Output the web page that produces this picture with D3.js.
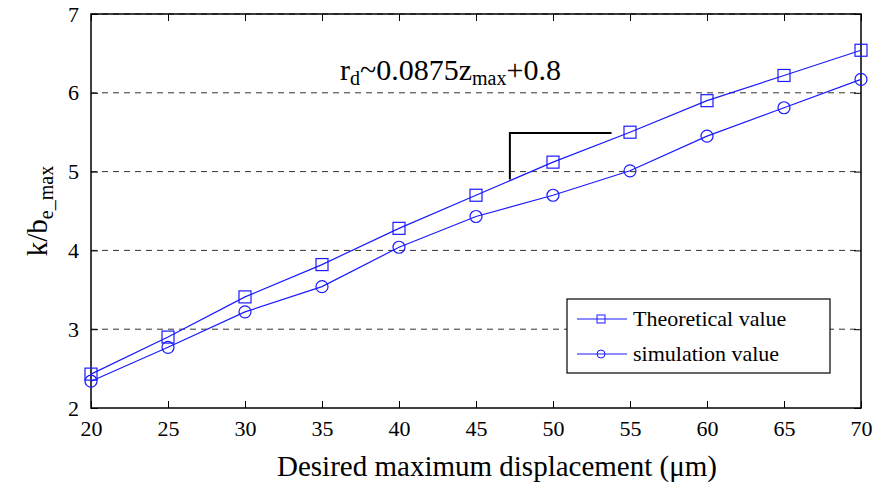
<!DOCTYPE html>
<html><head><meta charset="utf-8">
<script src="https://cdn.jsdelivr.net/npm/d3@7"></script>
<style>body{margin:0;background:#fff}svg{display:block}svg text,svg tspan{font-family:'Liberation Serif' !important}</style>
</head><body><svg id="c" width="874" height="488" font-family="Liberation Serif"></svg>
<script>
const xValues = [20,25,30,35,40,45,50,55,60,65,70];
const theoretical = [2.43,2.90,3.41,3.82,4.28,4.70,5.12,5.50,5.90,6.22,6.54];
const simulation = [2.34,2.77,3.22,3.54,4.04,4.43,4.70,5.01,5.45,5.81,6.17];
const xTicks = [20,25,30,35,40,45,50,55,60,65,70];
const yTicks = [2,3,4,5,6,7];
const seriesNames = ["Theoretical value","simulation value"];
const slopeMark = {x0:47.2, x1:53.8, yTop:5.49, yBottom:4.90};

const FONT = "'Liberation Serif'";
const svg = d3.select("#c");
const L=91,R=861,T=14,B=408;
const x = d3.scaleLinear().domain([20,70]).range([L,R]);
const y = d3.scaleLinear().domain([2,7]).range([B,T]);
const blue="#1a1aff";

svg.append("g").selectAll("line").data(yTicks.slice(1)).join("line")
  .attr("x1",L).attr("x2",R).attr("y1",d=>y(d)).attr("y2",d=>y(d))
  .attr("stroke","#333").attr("stroke-width",1).attr("stroke-dasharray","6,5");

const tl=7;
const styleAxis = g=>{g.select(".domain").remove();
  g.attr("font-family","Liberation Serif");
  g.selectAll("text").attr("font-size",22).attr("fill","#000").attr("font-family","Liberation Serif").style("font-family",FONT);
  g.selectAll("line").attr("stroke","#000");};
svg.append("g").attr("transform",`translate(0,${B})`)
  .call(d3.axisBottom(x).tickValues(xTicks).tickSize(-tl).tickPadding(12).tickFormat(d3.format("d")))
  .call(styleAxis);
svg.append("g").attr("transform",`translate(0,${T})`)
  .call(d3.axisTop(x).tickValues(xTicks).tickSize(-tl).tickFormat(""))
  .call(styleAxis);
svg.append("g").attr("transform",`translate(${L},0)`)
  .call(d3.axisLeft(y).tickValues(yTicks).tickSize(-tl).tickPadding(12).tickFormat(d3.format("d")))
  .call(styleAxis);
svg.append("g").attr("transform",`translate(${R},0)`)
  .call(d3.axisRight(y).tickValues(yTicks).tickSize(-tl).tickFormat(""))
  .call(styleAxis);
svg.append("rect").attr("x",L).attr("y",T).attr("width",R-L).attr("height",B-T)
  .attr("fill","none").attr("stroke","#000").attr("stroke-width",1.5);

const line = d3.line().x((d,i)=>x(xValues[i])).y(d=>y(d));
[theoretical,simulation].forEach(s=>{
  svg.append("path").datum(s).attr("d",line).attr("fill","none").attr("stroke",blue).attr("stroke-width",1.2);
});
svg.append("g").selectAll("rect").data(theoretical).join("rect")
  .attr("x",(d,i)=>x(xValues[i])-6).attr("y",d=>y(d)-6).attr("width",12).attr("height",12)
  .attr("fill","none").attr("stroke",blue).attr("stroke-width",1.2);
svg.append("g").selectAll("circle").data(simulation).join("circle")
  .attr("cx",(d,i)=>x(xValues[i])).attr("cy",d=>y(d)).attr("r",6)
  .attr("fill","none").attr("stroke",blue).attr("stroke-width",1.2);

svg.append("path")
  .attr("d",`M${x(slopeMark.x0)},${y(slopeMark.yBottom)}V${y(slopeMark.yTop)}H${x(slopeMark.x1)}`)
  .attr("fill","none").attr("stroke","#000").attr("stroke-width",2);
const eq = svg.append("text").attr("x",340).attr("y",80).attr("font-size",30).attr("font-family","Liberation Serif").style("font-family",FONT);
eq.append("tspan").text("r");
eq.append("tspan").text("d").attr("font-size",20).attr("dy",5);
eq.append("tspan").text("~0.0875z").attr("dy",-5);
eq.append("tspan").text("max").attr("font-size",20).attr("dy",5);
eq.append("tspan").text("+0.8").attr("dy",-5);

svg.append("text").attr("x",497).attr("y",476).attr("text-anchor","middle").attr("font-size",29).attr("font-family","Liberation Serif").style("font-family",FONT)
  .text("Desired maximum displacement (μm)");
const yl = svg.append("text").attr("transform","translate(47,211) rotate(-90)").attr("text-anchor","middle").attr("font-size",29).attr("font-family","Liberation Serif").style("font-family",FONT);
yl.append("tspan").text("k/b");
yl.append("tspan").text("e_max").attr("font-size",20).attr("dy",6);

const lg = svg.append("g");
lg.append("rect").attr("x",567).attr("y",299).attr("width",263).attr("height",74)
  .attr("fill","#fff").attr("stroke","#000").attr("stroke-width",1.2);
seriesNames.forEach((n,i)=>{
  const cy = 319 + i*35;
  lg.append("line").attr("x1",577).attr("x2",627).attr("y1",cy).attr("y2",cy).attr("stroke",blue).attr("stroke-width",1.2);
  if(i===0) lg.append("rect").attr("x",597).attr("y",cy-4).attr("width",8).attr("height",8).attr("fill","none").attr("stroke",blue);
  else lg.append("circle").attr("cx",601).attr("cy",cy).attr("r",4).attr("fill","none").attr("stroke",blue);
  lg.append("text").attr("x",633).attr("y",cy+7).attr("font-size",22).attr("font-family","Liberation Serif").style("font-family",FONT).text(n);
});
</script></body></html>
